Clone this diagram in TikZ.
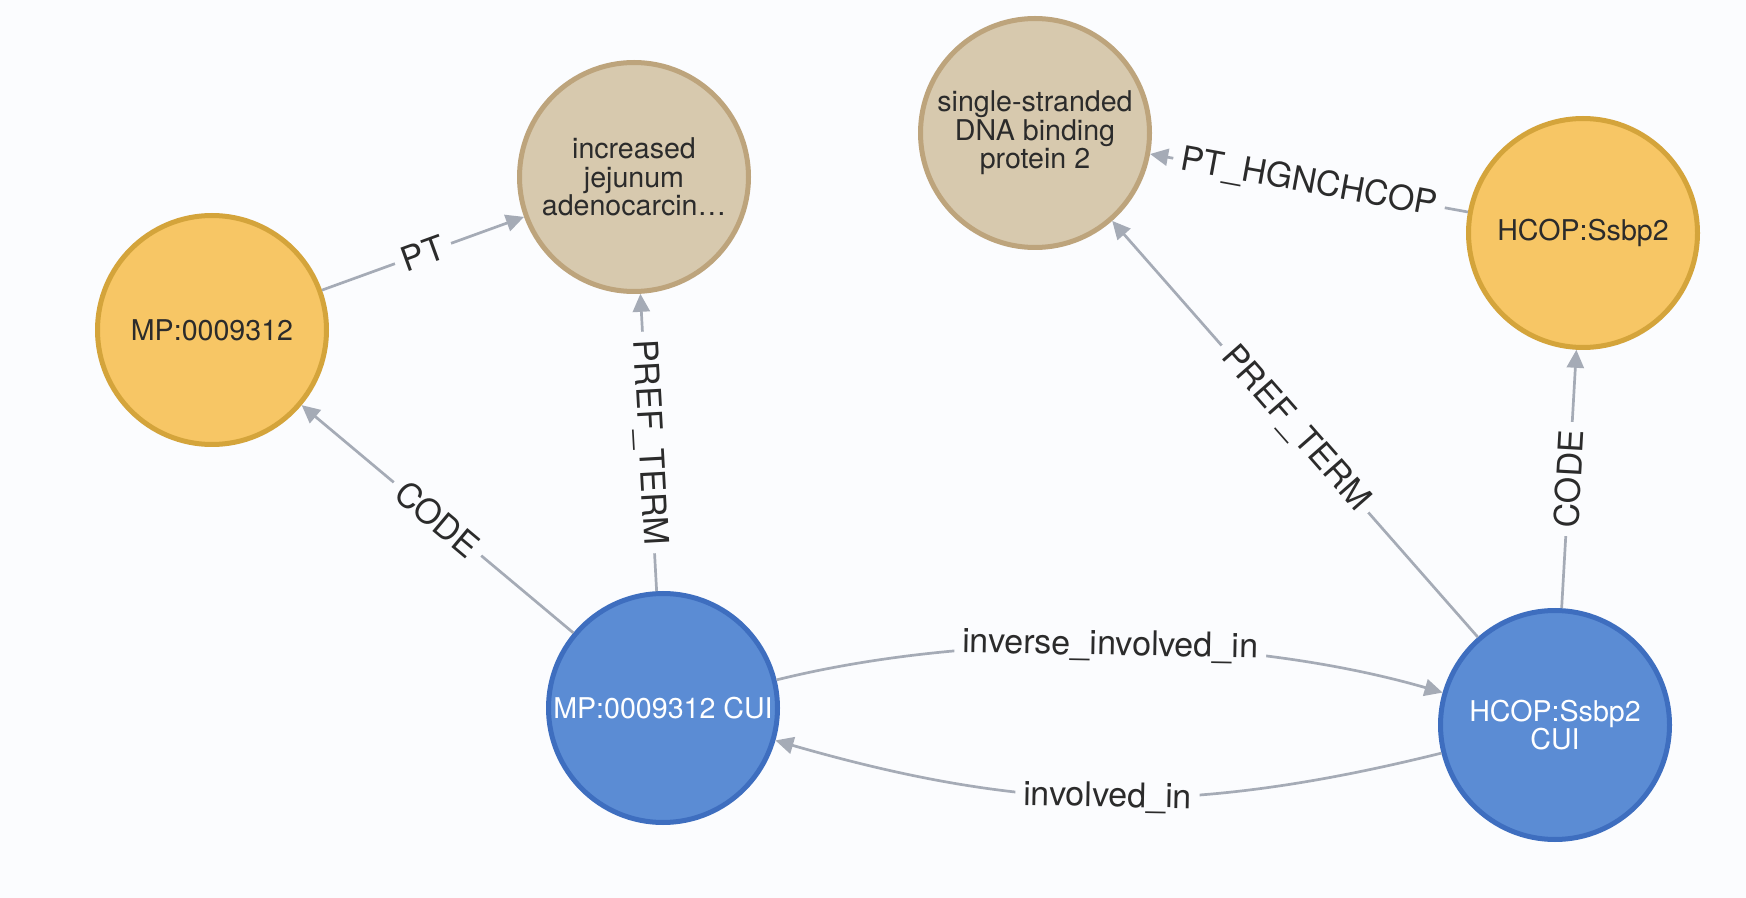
\documentclass[tikz,border=0pt]{standalone}
\usepackage{fontspec}
\setmainfont{TeX Gyre Heros}
\usetikzlibrary{arrows.meta}
\definecolor{bgc}{HTML}{FBFCFE}
\definecolor{codefill}{HTML}{F7C665}
\definecolor{codeline}{HTML}{D4A43B}
\definecolor{termfill}{HTML}{D7C9AE}
\definecolor{termline}{HTML}{BDA47C}
\definecolor{cuifill}{HTML}{5B8CD4}
\definecolor{cuiline}{HTML}{3E6EBF}
\definecolor{edgec}{HTML}{A5ABB6}
\definecolor{txt}{HTML}{2B2B2B}
\begin{document}
\begin{tikzpicture}[x=0.5pt, y=-0.5pt,
    gnode/.style={circle, line width=2.5pt, minimum size=114.5pt, inner sep=0pt, align=center, text=txt, font=\fontsize{14.3}{14.3}\selectfont},
    codenode/.style={gnode, fill=codefill, draw=codeline},
    termnode/.style={gnode, fill=termfill, draw=termline},
    cuinode/.style={gnode, fill=cuifill, draw=cuiline, text=white},
    edge/.style={draw=edgec, line width=1.35pt, -{Triangle[length=9pt,width=8.5pt]}},
    lbl/.style={midway, sloped, fill=bgc, text=txt, inner xsep=4pt, inner ysep=1pt, font=\fontsize{17}{17}\selectfont}]

    \fill[bgc] (0,0) rectangle (1746,898);
    \useasboundingbox (0,0) rectangle (1746,898);

    % nodes
    \node[codenode] (mp) at (212,330) {MP:0009312};
    \node[termnode] (jej) at (634,177) {increased\\jejunum\\adenocarcin…};
    \node[termnode] (ss) at (1035,133) {single-stranded\\DNA binding\\protein 2};
    \node[codenode] (hcop) at (1583,233) {HCOP:Ssbp2};
    \node[cuinode] (cui1) at (663,708) {MP:0009312 CUI};
    \node[cuinode] (cui2) at (1555,725) {HCOP:Ssbp2\\CUI};

    % relations
    \draw[edge] (mp) -- node[lbl]{PT} (jej);
    \draw[edge] (cui1) -- node[lbl]{CODE} (mp);
    \draw[edge] (cui1) -- node[lbl]{PREF\_TERM} (jej);
    \draw[edge] (cui2) -- node[lbl]{PREF\_TERM} (ss);
    \draw[edge] (hcop) -- node[lbl]{PT\_HGNCHCOP} (ss);
    \draw[edge] (cui2) -- node[lbl]{CODE} (hcop);
    \draw[edge] (cui1) to[bend left=15, looseness=0.8] node[lbl]{inverse\_involved\_in} (cui2);
    \draw[edge] (cui2) to[bend left=15] node[lbl]{involved\_in} (cui1);

\end{tikzpicture}
\end{document}
